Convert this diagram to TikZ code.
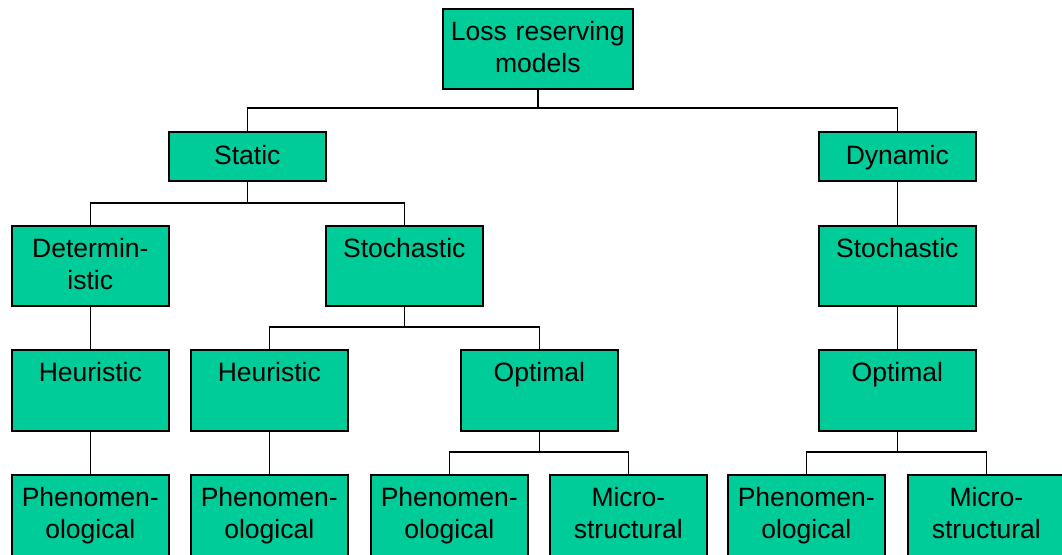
\documentclass[tikz,border=0pt]{standalone}
\usepackage{fontspec}
\setmainfont{Liberation Sans}
\definecolor{boxgreen}{RGB}{0,204,153}
\begin{document}
\begin{tikzpicture}[x=1pt,y=-1pt,
  every node/.style={font=\fontsize{26.5}{32}\selectfont},
  box/.style={draw=black, fill=boxgreen, line width=1.6pt, anchor=north west,
    inner xsep=0pt, inner ysep=0pt, align=center,
    minimum width=157pt, text width=157pt, text height=32pt, text depth=48pt},
  flat/.style={text height=33pt, text depth=16pt},
  tall/.style={text depth=58pt},
  link/.style={draw=black, line width=1.5pt}]
  \useasboundingbox (0,0) rectangle (1062,554);
  \clip (0,0) rectangle (1062,554);

  % tree levels
  \node[box, minimum width=190pt, text width=190pt] (root) at (442,8) {Loss reserving\\models};
  \node[box, flat] (static) at (168,131) {Static};
  \node[box, flat] (dynamic) at (818,131) {Dynamic};
  \node[box] (det) at (11,225) {Determin-\\istic};
  \node[box] (stoA) at (325,225) {Stochastic};
  \node[box] (stoB) at (818,225) {Stochastic};
  \node[box, text depth=49pt] (heuA) at (11,349) {Heuristic};
  \node[box, text depth=49pt] (heuB) at (190,349) {Heuristic};
  \node[box, text depth=49pt] (optA) at (460,349) {Optimal};
  \node[box, text depth=49pt] (optB) at (818,349) {Optimal};
  \node[box, tall] (phA) at (11,474) {Phenomen-\\ological};
  \node[box, tall] (phB) at (190,474) {Phenomen-\\ological};
  \node[box, tall] (phC) at (370,474) {Phenomen-\\ological};
  \node[box, tall] (miA) at (549,474) {Micro-\\structural};
  \node[box, tall] (phD) at (727,474) {Phenomen-\\ological};
  \node[box, tall] (miB) at (907,474) {Micro-\\structural};

  % heights of the horizontal bus lines
  \coordinate (busA) at (0,108);
  \coordinate (busB) at (0,203);
  \coordinate (busC) at (0,327);
  \coordinate (busD) at (0,452);

  % connectors
  \draw[link] (root.south) -- (root.south |- busA) -| (static.north);
  \draw[link] (root.south |- busA) -| (dynamic.north);
  \draw[link] (static.south) -- (static.south |- busB) -| (det.north);
  \draw[link] (static.south |- busB) -| (stoA.north);
  \draw[link] (stoA.south) -- (stoA.south |- busC) -| (heuB.north);
  \draw[link] (stoA.south |- busC) -| (optA.north);
  \draw[link] (optA.south) -- (optA.south |- busD) -| (phC.north);
  \draw[link] (optA.south |- busD) -| (miA.north);
  \draw[link] (optB.south) -- (optB.south |- busD) -| (phD.north);
  \draw[link] (optB.south |- busD) -| (miB.north);
  \draw[link] (dynamic.south) -- (stoB.north);
  \draw[link] (stoB.south) -- (optB.north);
  \draw[link] (det.south) -- (heuA.north);
  \draw[link] (heuA.south) -- (phA.north);
  \draw[link] (heuB.south) -- (phB.north);
\end{tikzpicture}
\end{document}
